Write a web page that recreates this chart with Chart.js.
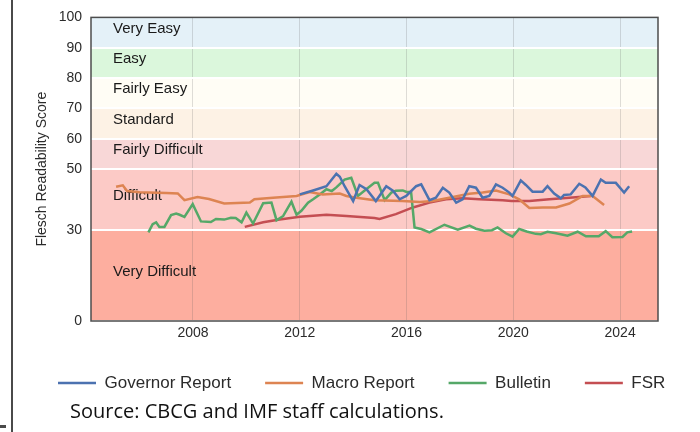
<!DOCTYPE html>
<html>
<head>
<meta charset="utf-8">
<script src="https://cdn.jsdelivr.net/npm/chart.js@4.4.0/dist/chart.umd.min.js"></script>
<style>
  html, body { margin: 0; padding: 0; background: #fff; }
  #wrap { position: relative; width: 700px; height: 432px; }
  #source { position: absolute; left: 70px; top: 399px; font-family: "Open Sans", sans-serif; font-size: 20px; line-height: 24px; color: #111; white-space: nowrap; }
</style>
</head>
<body>
<div id="wrap">
  <canvas id="myChart" width="700" height="432"></canvas>
  <div id="source">Source: CBCG and IMF staff calculations.</div>
</div>
<script>
// readability bands
const bandNames = ['Very Easy', 'Easy', 'Fairly Easy', 'Standard', 'Fairly Difficult', 'Difficult', 'Very Difficult'];
const bandTop = [100, 90, 80, 70, 60, 50, 30];
const bandBottom = [90, 80, 70, 60, 50, 30, 0];
const bandLabelAt = [96.3, 86.3, 76.3, 66.3, 56.3, 41.2, 16.2];
const bandColors = ['#e4f1f8', '#dbf7dc', '#fffdf5', '#fdf2e5', '#f8d7d7', '#fccac6', '#fdae9f'];

const yTicks = [0, 30, 50, 60, 70, 80, 90, 100];
const xTicks = [2008, 2012, 2016, 2020, 2024];

const govYears = [2012.0, 2012.5, 2013.0, 2013.37, 2013.5, 2013.68, 2014.0, 2014.24, 2014.5, 2014.85,
  2015.24, 2015.49, 2015.74, 2015.99, 2016.36, 2016.55, 2016.86, 2017.1, 2017.36, 2017.6,
  2017.86, 2018.1, 2018.35, 2018.6, 2018.85, 2019.1, 2019.35, 2019.6, 2019.85, 2019.97,
  2020.28, 2020.47, 2020.72, 2021.1, 2021.28, 2021.53, 2021.78, 2021.9, 2022.15, 2022.47,
  2022.7, 2022.97, 2023.28, 2023.46, 2023.84, 2024.15, 2024.34];
const govScores = [41.7, 43.0, 44.4, 48.5, 47.5, 44.4, 39.5, 44.8, 43.4, 39.5,
  44.4, 42.9, 40.1, 41.2, 44.4, 45.0, 39.8, 40.6, 43.9, 42.3,
  39.0, 40.1, 44.4, 43.9, 40.6, 41.2, 45.0, 43.9, 42.3, 41.2,
  46.3, 44.8, 42.6, 42.6, 44.4, 42.0, 40.4, 41.5, 41.7, 45.2,
  44.0, 41.2, 46.6, 45.5, 45.5, 42.3, 44.4];

const macroYears = [2005.12, 2005.37, 2005.53, 2006.0, 2007.0, 2007.43, 2007.68, 2008.17, 2008.6, 2009.17,
  2010.13, 2010.3, 2011.0, 2011.88, 2012.37, 2012.86, 2013.5, 2013.75, 2014.12, 2014.8,
  2015.85, 2016.5, 2016.97, 2017.6, 2018.35, 2018.85, 2019.35, 2019.85, 2020.22, 2020.6,
  2021.1, 2021.6, 2022.1, 2022.6, 2022.97, 2023.4];
const macroScores = [44.2, 44.7, 42.8, 42.4, 42.2, 42.0, 39.8, 40.8, 40.2, 38.7,
  39.0, 40.1, 40.6, 41.2, 42.5, 41.7, 42.0, 41.2, 40.6, 39.8,
  39.5, 39.2, 39.5, 40.6, 41.9, 42.3, 43.0, 41.7, 40.1, 37.2,
  37.4, 37.4, 38.7, 41.2, 41.2, 38.2];

const bulletinYears = [2006.33, 2006.49, 2006.62, 2006.74, 2006.93, 2007.18, 2007.37, 2007.5, 2007.68, 2007.99,
  2008.3, 2008.67, 2008.86, 2009.17, 2009.42, 2009.6, 2009.82, 2010.0, 2010.25, 2010.63,
  2010.94, 2011.13, 2011.38, 2011.69, 2011.88, 2012.06, 2012.31, 2012.5, 2012.75, 2013.0,
  2013.2, 2013.37, 2013.68, 2013.93, 2014.18, 2014.49, 2014.8, 2014.93, 2015.18, 2015.43,
  2015.6, 2015.86, 2016.0, 2016.17, 2016.3, 2016.55, 2016.86, 2017.42, 2017.92, 2018.36,
  2018.6, 2018.92, 2019.2, 2019.41, 2019.72, 2019.97, 2020.22, 2020.5, 2020.84, 2021.03,
  2021.28, 2021.6, 2022.03, 2022.41, 2022.72, 2023.2, 2023.46, 2023.71, 2024.09, 2024.27, 2024.45];
const bulletinScores = [29.2, 31.9, 32.5, 31.0, 31.0, 34.9, 35.4, 35.0, 34.3, 38.5,
  32.8, 32.6, 33.6, 33.4, 34.0, 33.9, 32.5, 35.7, 32.1, 38.8,
  39.0, 33.2, 34.6, 39.3, 35.0, 36.3, 39.0, 40.1, 41.7, 43.4,
  42.8, 44.0, 46.6, 47.2, 41.2, 43.4, 45.5, 45.5, 39.8, 42.3,
  42.9, 43.0, 42.5, 42.5, 30.8, 30.3, 29.2, 31.7, 30.1, 31.4,
  30.4, 29.7, 29.9, 30.8, 28.9, 27.8, 30.3, 29.5, 28.7, 28.6,
  29.4, 28.9, 28.1, 29.4, 27.9, 27.9, 29.6, 27.6, 27.7, 29.2, 29.5];

const fsrYears = [2009.94, 2010.63, 2011.25, 2012.0, 2013.0, 2013.75, 2014.8, 2014.99, 2015.6, 2016.24,
  2016.86, 2017.48, 2018.1, 2018.73, 2019.6, 2019.93, 2020.6, 2021.35, 2022.34, 2022.9];
const fsrScores = [31.0, 32.5, 33.4, 34.3, 35.0, 34.6, 33.9, 33.6, 35.2, 37.4,
  39.0, 40.1, 40.4, 40.1, 39.8, 39.5, 39.5, 40.1, 40.8, 41.2];

const toPoints = (xs, ys) => xs.map((x, i) => ({ x: x, y: ys[i] }));

const sans = '"Liberation Sans", Arial, sans-serif';
Chart.defaults.font.family = sans;
Chart.defaults.color = '#2b2b2b';

const bandPlugin = {
  id: 'bands',
  beforeDraw(chart) {
    const { ctx, chartArea: a, scales: { y } } = chart;
    ctx.save();
    for (let i = 0; i < bandNames.length; i++) {
      const top = y.getPixelForValue(bandTop[i]);
      const bottom = y.getPixelForValue(bandBottom[i]);
      ctx.fillStyle = bandColors[i];
      ctx.fillRect(a.left, top, a.right - a.left, bottom - top);
    }
    ctx.restore();
  },
  beforeDatasetsDraw(chart) {
    const { ctx, chartArea: a, scales: { y } } = chart;
    ctx.save();
    ctx.font = '15px ' + sans;
    ctx.fillStyle = '#1a1a1a';
    ctx.textBaseline = 'middle';
    for (let i = 0; i < bandNames.length; i++) {
      ctx.fillText(bandNames[i], a.left + 22, y.getPixelForValue(bandLabelAt[i]));
    }
    ctx.strokeStyle = '#4d4d4d';
    ctx.lineWidth = 1.5;
    ctx.strokeRect(a.left, a.top, a.right - a.left, a.bottom - a.top);
    ctx.restore();
  },
  afterDraw(chart) {
    const ctx = chart.ctx;
    ctx.save();
    ctx.fillStyle = '#4a4a4a';
    ctx.fillRect(11, 0, 2, chart.height);
    ctx.fillRect(0, 425, 6, 3);
    ctx.restore();
  }
};

const data = {
  datasets: [
    { label: 'Governor Report', data: toPoints(govYears, govScores), borderColor: '#4c72b0', backgroundColor: '#4c72b0' },
    { label: 'Macro Report', data: toPoints(macroYears, macroScores), borderColor: '#dd8452', backgroundColor: '#dd8452' },
    { label: 'Bulletin', data: toPoints(bulletinYears, bulletinScores), borderColor: '#55a868', backgroundColor: '#55a868' },
    { label: 'FSR', data: toPoints(fsrYears, fsrScores), borderColor: '#c44e52', backgroundColor: '#c44e52' }
  ]
};

const config = {
  type: 'line',
  data: data,
  options: {
    responsive: false,
    animation: false,
    layout: { padding: { left: 24, right: 0, top: 15, bottom: 30.5 } },
    elements: {
      point: { radius: 0, borderWidth: 2.5 },
      line: { borderWidth: 2.5, tension: 0 }
    },
    scales: {
      x: {
        type: 'linear',
        min: 2004.18,
        max: 2025.42,
        afterBuildTicks: s => { s.ticks = xTicks.map(v => ({ value: v })); },
        afterFit: s => { s.height = 19.5; },
        grid: { color: 'rgba(90,90,90,0.2)', lineWidth: 1, drawTicks: false },
        border: { display: false },
        ticks: { padding: 4, font: { size: 14 }, callback: v => String(v) }
      },
      y: {
        min: 0,
        max: 100,
        afterBuildTicks: s => { s.ticks = yTicks.map(v => ({ value: v })); },
        afterFit: s => { s.width = 67; },
        grid: { color: '#ffffff', lineWidth: 2, drawTicks: false },
        border: { display: false },
        ticks: { padding: 9, font: { size: 14 } },
        title: {
          display: true,
          text: 'Flesch Readability Score',
          font: { size: 14 },
          padding: { top: 9.6, bottom: 0 }
        }
      },
      // empty right-hand margin so the legend row can run past the plot edge
      yRight: {
        position: 'right',
        min: 0,
        max: 100,
        afterFit: s => { s.width = 42; },
        grid: { display: false },
        border: { display: false },
        ticks: { display: false }
      }
    },
    plugins: {
      legend: {
        position: 'bottom',
        align: 'start',
        labels: {
          usePointStyle: true,
          pointStyle: 'line',
          pointStyleWidth: 38,
          padding: 34,
          font: { size: 17 },
          color: '#2b2b2b'
        }
      },
      tooltip: { enabled: false }
    }
  },
  plugins: [bandPlugin]
};

new Chart(document.getElementById('myChart'), config);
</script>
</body>
</html>
